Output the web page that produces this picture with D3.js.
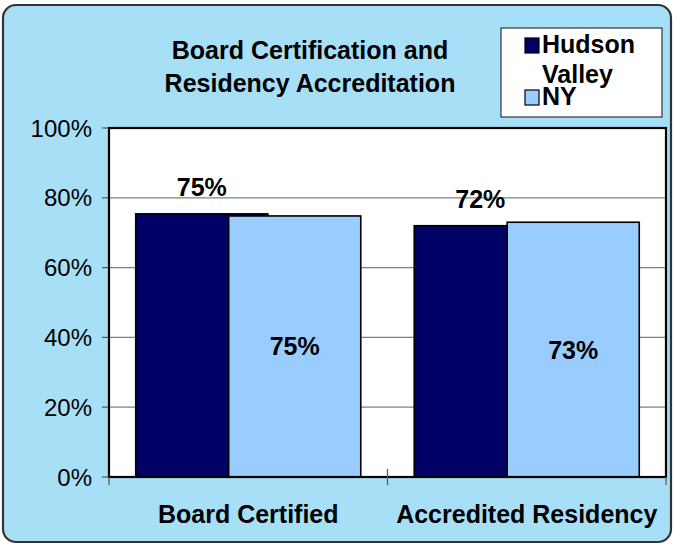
<!DOCTYPE html>
<html>
<head>
<meta charset="utf-8">
<script src="https://cdn.jsdelivr.net/npm/d3@7"></script>
<style>
  body { margin: 0; background: #fff; }
  text { font-family: Arial, "Liberation Sans", sans-serif; }
</style>
</head>
<body>
<div id="chart"></div>
<script>
// data
var categories = ["Board Certified", "Accredited Residency"];
var seriesNames = ["Hudson Valley", "NY"];
var hudsonValley = [75.4, 72.0];
var newYork = [74.8, 73.0];
var yTicks = [0, 20, 40, 60, 80, 100];
var titleLines = ["Board Certification and", "Residency Accreditation"];

var W = 673, H = 546;
var margin = {top: 128, right: 7, bottom: 69, left: 109};
var width = W - margin.left - margin.right,
    height = H - margin.top - margin.bottom;

var colors = ["#000066", "#99ccff"];

var svg = d3.select("#chart")
  .append("svg")
  .attr("width", W)
  .attr("height", H);

// chart area background
svg.append("rect")
  .attr("x", 3).attr("y", 5)
  .attr("width", 668).attr("height", 537)
  .attr("rx", 13).attr("ry", 13)
  .attr("fill", "#a7dff7")
  .attr("stroke", "#333")
  .attr("stroke-width", 2.2);

var g = svg.append("g")
  .attr("transform", "translate(" + margin.left + "," + margin.top + ")");

var x = d3.scaleBand()
  .domain(categories)
  .range([0, width])
  .padding(0);

var y = d3.scaleLinear()
  .domain([0, 100])
  .range([height, 0]);

// plot area
g.append("rect")
  .attr("width", width)
  .attr("height", height)
  .attr("fill", "#fff");

// gridlines
g.selectAll(".grid")
  .data(yTicks.slice(1, -1))
  .enter()
  .append("line")
  .attr("x1", 0).attr("x2", width)
  .attr("y1", function(d){ return y(d); })
  .attr("y2", function(d){ return y(d); })
  .attr("stroke", "#808080")
  .attr("stroke-width", 1.2);

// y axis labels + ticks
g.selectAll(".ytick")
  .data(yTicks)
  .enter()
  .append("line")
  .attr("x1", -7).attr("x2", 0)
  .attr("y1", function(d){ return y(d); })
  .attr("y2", function(d){ return y(d); })
  .attr("stroke", "#555")
  .attr("stroke-width", 1.2);

g.selectAll(".ylab")
  .data(yTicks)
  .enter()
  .append("text")
  .attr("x", -17)
  .attr("y", function(d){ return y(d); })
  .attr("dy", "0.36em")
  .attr("text-anchor", "end")
  .attr("font-size", 24)
  .attr("fill", "#000")
  .text(function(d){ return d + "%"; });

// bars (overlapping, Excel style)
var bw = x.bandwidth();
var groupW = bw * 0.808;
var barW = groupW * 0.587;
var gap = (bw - groupW) / 2;

var series = [hudsonValley, newYork];

series.forEach(function(vals, si) {
  g.selectAll(".bar" + si)
    .data(vals)
    .enter()
    .append("rect")
    .attr("x", function(d, i){ return x(categories[i]) + gap + si * (groupW - barW); })
    .attr("y", function(d){ return y(d); })
    .attr("width", barW)
    .attr("height", function(d){ return height - y(d); })
    .attr("fill", colors[si])
    .attr("stroke", "#000")
    .attr("stroke-width", 1.6);
});

// data labels
g.selectAll(".lab0")
  .data(hudsonValley)
  .enter()
  .append("text")
  .attr("x", function(d, i){ return x(categories[i]) + gap + barW / 2; })
  .attr("y", function(d){ return y(d) - 18; })
  .attr("text-anchor", "middle")
  .attr("font-size", 25)
  .attr("font-weight", "bold")
  .text(function(d){ return Math.round(d) + "%"; });

g.selectAll(".lab1")
  .data(newYork)
  .enter()
  .append("text")
  .attr("x", function(d, i){ return x(categories[i]) + gap + (groupW - barW) + barW / 2; })
  .attr("y", function(d){ return (y(d) + height) / 2; })
  .attr("dy", "0.36em")
  .attr("text-anchor", "middle")
  .attr("font-size", 25)
  .attr("font-weight", "bold")
  .text(function(d){ return Math.round(d) + "%"; });

// plot border
g.append("rect")
  .attr("width", width)
  .attr("height", height)
  .attr("fill", "none")
  .attr("stroke", "#000")
  .attr("stroke-width", 2.2);

// x ticks
var xEdges = [0].concat(categories.map(function(c){ return x(c) + bw; }));
g.selectAll(".xtick")
  .data(xEdges)
  .enter()
  .append("line")
  .attr("x1", function(d){ return d; })
  .attr("x2", function(d){ return d; })
  .attr("y1", function(d, i){ return (i == 1) ? height - 8 : height; })
  .attr("y2", height + 8)
  .attr("stroke", "#555")
  .attr("stroke-width", 1.2);

// category labels
g.selectAll(".xlab")
  .data(categories)
  .enter()
  .append("text")
  .attr("x", function(d){ return x(d) + bw / 2; })
  .attr("y", height + 46)
  .attr("text-anchor", "middle")
  .attr("font-size", 25)
  .attr("font-weight", "bold")
  .text(function(d){ return d; });

// title
svg.selectAll(".title")
  .data(titleLines)
  .enter()
  .append("text")
  .attr("x", 310)
  .attr("y", function(d, i){ return 59 + i * 33; })
  .attr("text-anchor", "middle")
  .attr("font-size", 25)
  .attr("font-weight", "bold")
  .text(function(d){ return d; });

// legend
var legend = svg.append("g").attr("transform", "translate(501,28)");
legend.append("rect")
  .attr("width", 161).attr("height", 89)
  .attr("fill", "#fff")
  .attr("stroke", "#333")
  .attr("stroke-width", 1.2);

var legendRows = [
  {name: seriesNames[0], lines: ["Hudson", "Valley"], y: 10, color: colors[0]},
  {name: seriesNames[1], lines: ["NY"], y: 62, color: colors[1]}
];

legendRows.forEach(function(r) {
  legend.append("rect")
    .attr("x", 24).attr("y", r.y)
    .attr("width", 14).attr("height", 15)
    .attr("fill", r.color)
    .attr("stroke", "#000")
    .attr("stroke-width", 1.2);
  r.lines.forEach(function(t, j) {
    legend.append("text")
      .attr("x", 41)
      .attr("y", r.y + 15 + j * 30)
      .attr("font-size", 25)
      .attr("font-weight", "bold")
      .text(t);
  });
});
</script>
</body>
</html>
